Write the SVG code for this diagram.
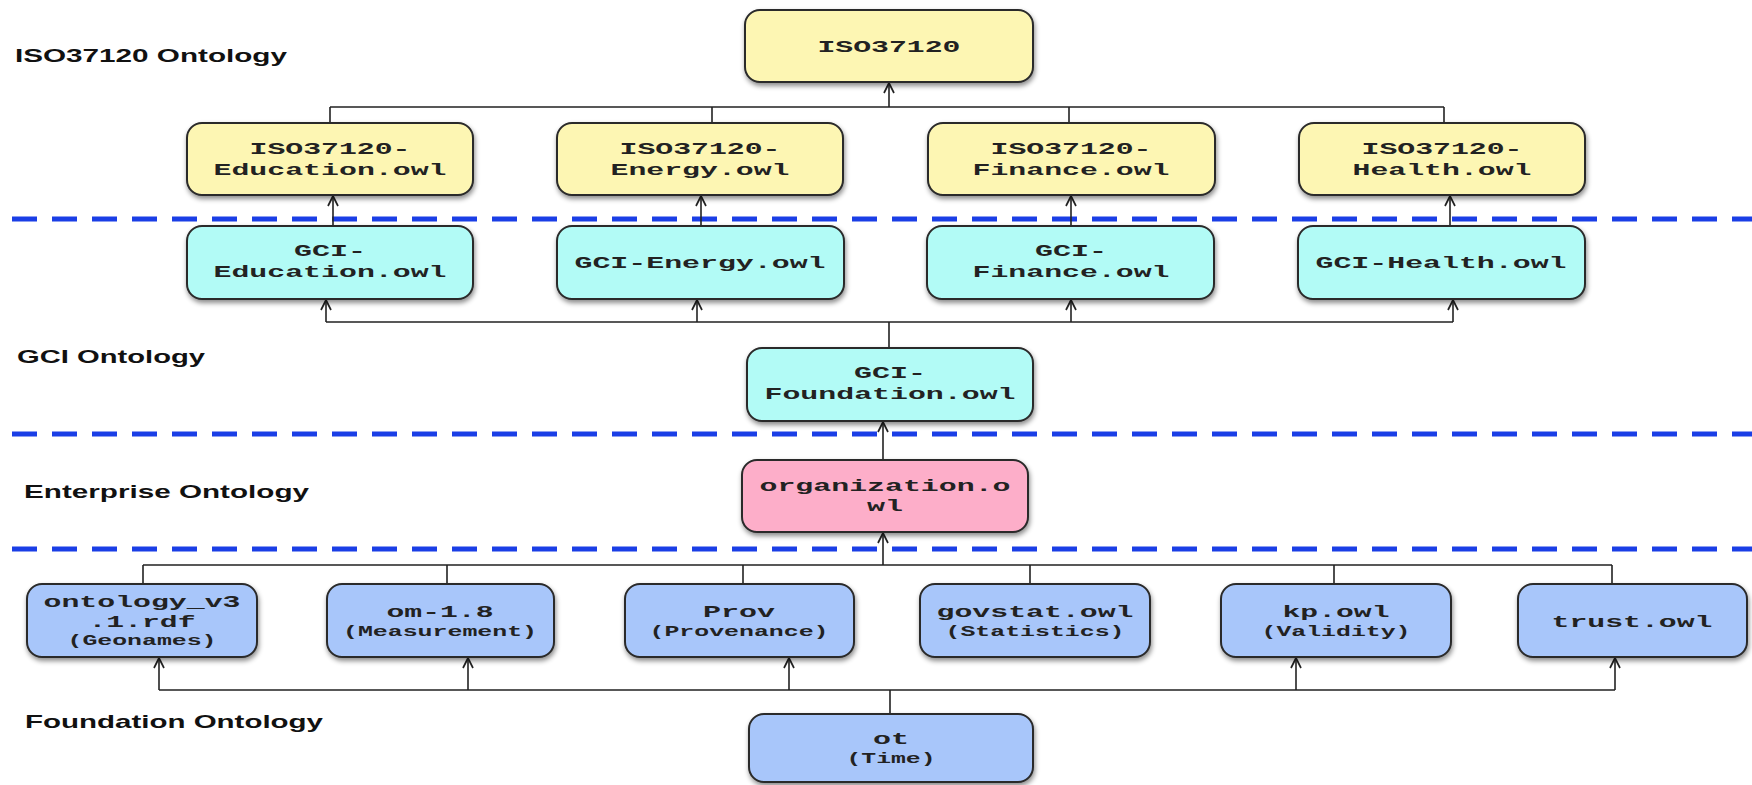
<svg xmlns="http://www.w3.org/2000/svg" width="1752" height="785" viewBox="0 0 1752 785">
<style>
.box{stroke:#2a2a2a;stroke-width:2;filter:url(#sh)}
.y{fill:#fdf6b3}.c{fill:#b2fbf6}.p{fill:#fdaec9}.b{fill:#a8c6fa}
.t{font-family:"Liberation Mono","Courier New",monospace;font-weight:bold;font-size:17px;fill:#222;text-anchor:middle}
.s{font-family:"Liberation Mono","Courier New",monospace;font-weight:bold;font-size:14px;fill:#222;text-anchor:middle}
.lab{font-family:"Liberation Sans",Arial,sans-serif;font-weight:bold;font-size:19px;fill:#111}
.con{fill:none;stroke:#222;stroke-width:1.6}
.dash{stroke:#1a3ee6;stroke-width:5;stroke-dasharray:25 15}
</style>
<defs>
<filter id="sh" x="-10%" y="-10%" width="125%" height="140%">
<feDropShadow dx="1" dy="3" stdDeviation="2.5" flood-color="#000" flood-opacity="0.45"/>
</filter>
<marker id="ah" viewBox="-12 -7 14 14" markerWidth="14" markerHeight="14" refX="0" refY="0" orient="auto" markerUnits="userSpaceOnUse">
<path d="M-10,-5 L0,0 L-10,5" fill="none" stroke="#222" stroke-width="1.7"/>
</marker>
</defs>

<g id="layer-labels">
<text class="lab" x="15" y="62" textLength="272" lengthAdjust="spacingAndGlyphs">ISO37120 Ontology</text>
<text class="lab" x="17" y="363" textLength="188" lengthAdjust="spacingAndGlyphs">GCI Ontology</text>
<text class="lab" x="24" y="498" textLength="285" lengthAdjust="spacingAndGlyphs">Enterprise Ontology</text>
<text class="lab" x="25" y="728" textLength="298" lengthAdjust="spacingAndGlyphs">Foundation Ontology</text>
</g>

<g id="separators">
<line class="dash" x1="12" y1="219" x2="1752" y2="219"/>
<line class="dash" x1="12" y1="434" x2="1752" y2="434"/>
<line class="dash" x1="12" y1="549" x2="1752" y2="549"/>
</g>

<g id="connectors">
<path class="con" d="M330,107 H1444 M330,107 V123 M712,107 V123 M1069,107 V123 M1444,107 V123"/>
<path class="con" d="M889,107 V83" marker-end="url(#ah)"/>
<path class="con" d="M333,226 V196" marker-end="url(#ah)"/>
<path class="con" d="M701,226 V196" marker-end="url(#ah)"/>
<path class="con" d="M1071,226 V196" marker-end="url(#ah)"/>
<path class="con" d="M1450,226 V196" marker-end="url(#ah)"/>
<path class="con" d="M326,322 H1453 M889,322 V348"/>
<path class="con" d="M326,322 V300" marker-end="url(#ah)"/>
<path class="con" d="M697,322 V300" marker-end="url(#ah)"/>
<path class="con" d="M1071,322 V300" marker-end="url(#ah)"/>
<path class="con" d="M1453,322 V300" marker-end="url(#ah)"/>
<path class="con" d="M883,460 V422" marker-end="url(#ah)"/>
<path class="con" d="M883,565 V533" marker-end="url(#ah)"/>
<path class="con" d="M143,565 H1612 M143,565 V584 M447,565 V584 M743,565 V584 M1030,565 V584 M1334,565 V584 M1612,565 V584"/>
<path class="con" d="M159,690 H1615 M890,690 V714"/>
<path class="con" d="M159,690 V658" marker-end="url(#ah)"/>
<path class="con" d="M468,690 V658" marker-end="url(#ah)"/>
<path class="con" d="M789,690 V658" marker-end="url(#ah)"/>
<path class="con" d="M1296,690 V658" marker-end="url(#ah)"/>
<path class="con" d="M1615,690 V658" marker-end="url(#ah)"/>
</g>

<g id="iso37120">
<rect class="box y" x="745" y="10" width="288" height="72" rx="15"/>
<text class="t" x="889" y="52" textLength="143" lengthAdjust="spacingAndGlyphs">ISO37120</text>
</g>
<g id="iso-education">
<rect class="box y" x="187" y="123" width="286" height="72" rx="15"/>
<text class="t" x="330" y="154" textLength="161" lengthAdjust="spacingAndGlyphs">ISO37120-</text>
<text class="t" x="330" y="175" textLength="233" lengthAdjust="spacingAndGlyphs">Education.owl</text>
</g>
<g id="iso-energy">
<rect class="box y" x="557" y="123" width="286" height="72" rx="15"/>
<text class="t" x="700" y="154" textLength="161" lengthAdjust="spacingAndGlyphs">ISO37120-</text>
<text class="t" x="700" y="175" textLength="179" lengthAdjust="spacingAndGlyphs">Energy.owl</text>
</g>
<g id="iso-finance">
<rect class="box y" x="928" y="123" width="287" height="72" rx="15"/>
<text class="t" x="1071" y="154" textLength="161" lengthAdjust="spacingAndGlyphs">ISO37120-</text>
<text class="t" x="1071" y="175" textLength="197" lengthAdjust="spacingAndGlyphs">Finance.owl</text>
</g>
<g id="iso-health">
<rect class="box y" x="1299" y="123" width="286" height="72" rx="15"/>
<text class="t" x="1442" y="154" textLength="161" lengthAdjust="spacingAndGlyphs">ISO37120-</text>
<text class="t" x="1442" y="175" textLength="179" lengthAdjust="spacingAndGlyphs">Health.owl</text>
</g>

<g id="gci-education">
<rect class="box c" x="187" y="226" width="286" height="73" rx="15"/>
<text class="t" x="330" y="256" textLength="72" lengthAdjust="spacingAndGlyphs">GCI-</text>
<text class="t" x="330" y="277" textLength="233" lengthAdjust="spacingAndGlyphs">Education.owl</text>
</g>
<g id="gci-energy">
<rect class="box c" x="557" y="226" width="287" height="73" rx="15"/>
<text class="t" x="700" y="268" textLength="251" lengthAdjust="spacingAndGlyphs">GCI-Energy.owl</text>
</g>
<g id="gci-finance">
<rect class="box c" x="927" y="226" width="287" height="73" rx="15"/>
<text class="t" x="1071" y="256" textLength="72" lengthAdjust="spacingAndGlyphs">GCI-</text>
<text class="t" x="1071" y="277" textLength="197" lengthAdjust="spacingAndGlyphs">Finance.owl</text>
</g>
<g id="gci-health">
<rect class="box c" x="1298" y="226" width="287" height="73" rx="15"/>
<text class="t" x="1441" y="268" textLength="251" lengthAdjust="spacingAndGlyphs">GCI-Health.owl</text>
</g>
<g id="gci-foundation">
<rect class="box c" x="747" y="348" width="286" height="73" rx="15"/>
<text class="t" x="890" y="378" textLength="72" lengthAdjust="spacingAndGlyphs">GCI-</text>
<text class="t" x="890" y="399" textLength="251" lengthAdjust="spacingAndGlyphs">Foundation.owl</text>
</g>

<g id="organization">
<rect class="box p" x="742" y="460" width="286" height="72" rx="15"/>
<text class="t" x="885" y="491" textLength="251" lengthAdjust="spacingAndGlyphs">organization.o</text>
<text class="t" x="885" y="511" textLength="36" lengthAdjust="spacingAndGlyphs">wl</text>
</g>

<g id="geonames">
<rect class="box b" x="27" y="584" width="230" height="73" rx="15"/>
<text class="t" x="142" y="607" textLength="197" lengthAdjust="spacingAndGlyphs">ontology_v3</text>
<text class="t" x="142" y="627" textLength="107" lengthAdjust="spacingAndGlyphs">.1.rdf</text>
<text class="s" x="142" y="645" textLength="149" lengthAdjust="spacingAndGlyphs">(Geonames)</text>
</g>
<g id="om">
<rect class="box b" x="327" y="584" width="227" height="73" rx="15"/>
<text class="t" x="440" y="617" textLength="107" lengthAdjust="spacingAndGlyphs">om-1.8</text>
<text class="s" x="440" y="636" textLength="194" lengthAdjust="spacingAndGlyphs">(Measurement)</text>
</g>
<g id="prov">
<rect class="box b" x="625" y="584" width="229" height="73" rx="15"/>
<text class="t" x="739" y="617" textLength="72" lengthAdjust="spacingAndGlyphs">Prov</text>
<text class="s" x="739" y="636" textLength="179" lengthAdjust="spacingAndGlyphs">(Provenance)</text>
</g>
<g id="govstat">
<rect class="box b" x="920" y="584" width="230" height="73" rx="15"/>
<text class="t" x="1035" y="617" textLength="197" lengthAdjust="spacingAndGlyphs">govstat.owl</text>
<text class="s" x="1035" y="636" textLength="179" lengthAdjust="spacingAndGlyphs">(Statistics)</text>
</g>
<g id="kp">
<rect class="box b" x="1221" y="584" width="230" height="73" rx="15"/>
<text class="t" x="1336" y="617" textLength="107" lengthAdjust="spacingAndGlyphs">kp.owl</text>
<text class="s" x="1336" y="636" textLength="149" lengthAdjust="spacingAndGlyphs">(Validity)</text>
</g>
<g id="trust">
<rect class="box b" x="1518" y="584" width="229" height="73" rx="15"/>
<text class="t" x="1632" y="627" textLength="161" lengthAdjust="spacingAndGlyphs">trust.owl</text>
</g>
<g id="ot">
<rect class="box b" x="749" y="714" width="284" height="68" rx="15"/>
<text class="t" x="891" y="744" textLength="36" lengthAdjust="spacingAndGlyphs">ot</text>
<text class="s" x="891" y="763" textLength="89" lengthAdjust="spacingAndGlyphs">(Time)</text>
</g>
</svg>
